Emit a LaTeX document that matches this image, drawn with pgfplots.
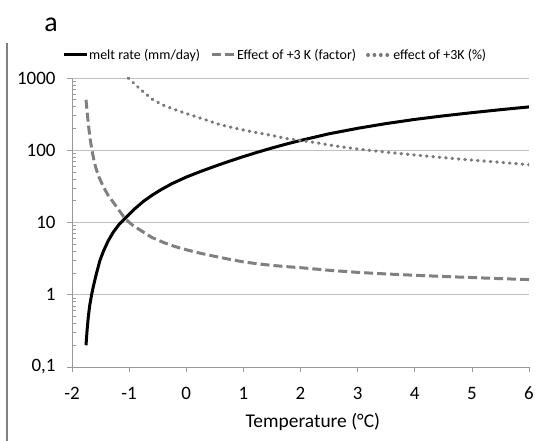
\documentclass[border=0pt]{standalone}
\usepackage{fontspec}
\setmainfont{Carlito}
\usepackage{pgfplots}
\pgfplotsset{compat=1.18}
\usepackage{pgfplotstable}

\pgfplotstableread{
T v
-1.755 0.2
-1.735 0.33
-1.715 0.49
-1.69 0.71
-1.655 1.02
-1.62 1.37
-1.57 2.0
-1.51 3.0
-1.45 4.0
-1.37 5.5
-1.28 7.3
-1.18 9.3
-1.07 11.4
-0.9 15.5
-0.75 19.6
-0.6 23.8
-0.45 28.2
-0.25 34.5
0 42.5
0.25 50.8
0.5 60
0.75 70.3
1 81.6
1.25 94
1.5 107.4
1.75 121.6
2 136.5
2.5 169
3 201
3.5 234
4 267
4.5 299
5 331
5.5 364
6 398
}\meltdata

\pgfplotstableread{
T v
-1.755 500
-1.735 340
-1.715 235
-1.70 185
-1.68 140
-1.655 105
-1.62 75
-1.58 56
-1.53 43
-1.45 31
-1.37 24
-1.277 19
-1.17 14.5
-1.07 11.3
-0.95 9.3
-0.8 7.8
-0.6 6.2
-0.4 5.3
-0.2 4.65
0 4.2
0.25 3.75
0.5 3.4
0.75 3.1
1 2.85
1.25 2.68
1.5 2.55
1.75 2.45
2 2.37
2.5 2.18
3 2.04
3.5 1.94
4 1.86
4.5 1.79
5 1.73
5.5 1.67
6 1.62
}\factordata

\pgfplotstableread{
T v
-1.014 1000
-0.9 820
-0.75 640
-0.576 495
-0.4 420
-0.2 365
0 322
0.3 270
0.59 226
0.9 198
1.175 179
1.5 160
1.76 145
2 137
2.28 127
2.6 115
3 104
3.5 94
4 86
4.5 79
5 73
5.5 68
6 63
}\pctdata

\begin{document}
\begin{tikzpicture}[x=1bp,y=1bp]
\path[use as bounding box] (0,0) rectangle (538,441);
\draw[black!50, line width=1.3bp] (7,0) -- (7,398);
\node[font=\fontsize{28}{30}\selectfont, anchor=base] at (51,409) {a};
\begin{axis}[
  at={(72bp,74bp)}, anchor=south west,
  scale only axis, width=457bp, height=289bp,
  ymode=log, xmin=-2, xmax=6, ymin=0.1, ymax=1000,
  axis x line*=bottom, axis y line*=left,
  axis line style={black!40, line width=0.8bp},
  xtick={-2,-1,0,1,2,3,4,5,6}, xticklabels={-2,-1,0,1,2,3,4,5,6},
  ytick={0.1,1,10,100,1000}, yticklabels={{0,1},1,10,100,1000},
  minor ytick={0.2,0.3,0.4,0.5,0.6,0.7,0.8,0.9,2,3,4,5,6,7,8,9,20,30,40,50,60,70,80,90,200,300,400,500,600,700,800,900},
  ymajorgrids, major grid style={black!25, line width=0.8bp},
  tick align=outside, major tick length=5bp, minor tick length=4bp,
  tick style={black!40, line width=0.6bp},
  minor tick style={xshift=4bp},
  ticklabel style={font=\fontsize{19}{22}\selectfont},
  yticklabel style={xshift=-8bp},
  xticklabel style={anchor=base, yshift=-28bp},
  xlabel={Temperature (°C)},
  xlabel style={font=\fontsize{19.5}{22}\selectfont, at={(axis description cs:0.527,0)}, anchor=base, yshift=-61bp},
  legend columns=3,
  legend style={at={(axis description cs:-0.022,1.0796)}, anchor=west, draw=none, fill=none, inner sep=0pt,
    font=\fontsize{14}{16}\selectfont, nodes={inner xsep=1bp},
    /tikz/every even column/.append style={column sep=9bp}},
  legend image code/.code={\draw[#1] (0bp,0bp) -- (23bp,0bp);},
]
\addplot[black, line width=3bp, line join=round] table[x=T,y=v] {\meltdata};
\addlegendentry{melt rate (mm/day)}
\addplot[black!50, line width=3bp, dash pattern=on 9bp off 4bp] table[x=T,y=v] {\factordata};
\addlegendentry{Effect of +3 K (factor)}
\addplot[black!52, line width=3.2bp, line cap=round, dash pattern=on 0.6bp off 5.8bp] table[x=T,y=v] {\pctdata};
\addlegendentry{effect of +3K (\%)}
\end{axis}
\end{tikzpicture}
\end{document}
